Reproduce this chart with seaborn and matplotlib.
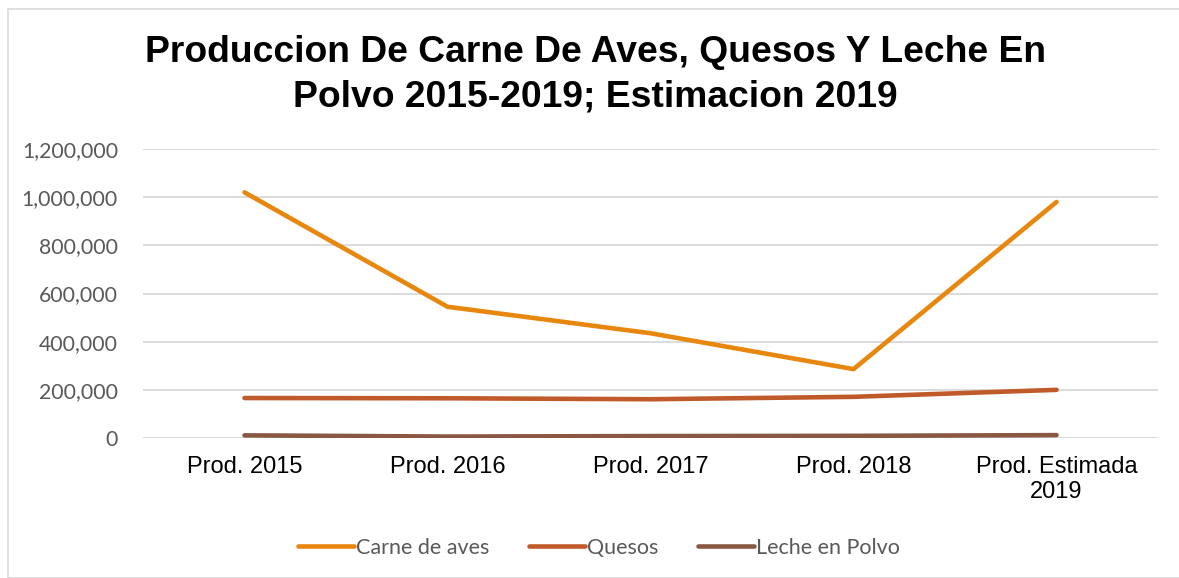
import pandas as pd
import numpy as np
import matplotlib
matplotlib.use('Agg')
import matplotlib.pyplot as plt
import seaborn as sns
from matplotlib.ticker import FuncFormatter
from matplotlib.patches import Rectangle

# datos
categorias = ['Prod. 2015', 'Prod. 2016', 'Prod. 2017', 'Prod. 2018', 'Prod. Estimada\n2019']
carne_aves = [1020000, 545000, 435000, 286000, 980000]
quesos = [166000, 165000, 161000, 171000, 200000]
leche_polvo = [11000, 6000, 8000, 9000, 12000]

series = ['Carne de aves', 'Quesos', 'Leche en Polvo']
colores = ['#E8870E', '#C05A2B', '#8A5842']

df = pd.DataFrame({
    'categoria': categorias * 3,
    'serie': np.repeat(series, len(categorias)),
    'valor': carne_aves + quesos + leche_polvo,
})
df['x'] = df['categoria'].map({c: i for i, c in enumerate(categorias)})

sns.set_theme(style='white')

fig = plt.figure(figsize=(11.79, 5.78), dpi=100)
ax = fig.add_axes([0.1213, 0.2422, 0.8609, 0.5])

sns.lineplot(data=df, x='x', y='valor', hue='serie', hue_order=series,
             palette=colores, linewidth=3.3, ax=ax, legend=False,
             solid_capstyle='round', sort=False)

ax.set_xlim(-0.5, 4.5)
ax.set_ylim(0, 1200000)
ax.set_yticks(np.arange(0, 1200001, 200000))
ax.yaxis.set_major_formatter(FuncFormatter(lambda v, p: f'{int(v):,}'))
ax.set_xticks(range(len(categorias)))
ax.set_xticklabels(categorias, fontfamily='Liberation Sans', fontsize=17,
                   color='black', linespacing=1.2)
for t in ax.get_yticklabels():
    t.set_fontfamily('Lato')
    t.set_fontsize(15.3)
    t.set_color('#595959')
ax.tick_params(axis='x', length=0, pad=13)
ax.tick_params(axis='y', length=0, pad=18)
ax.grid(axis='y', color='#D9D9D9', linewidth=1.3)
ax.set_axisbelow(True)
for s in ax.spines.values():
    s.set_visible(False)
ax.set_xlabel('')
ax.set_ylabel('')

fig.text(0.505, 0.871, 'Produccion De Carne De Aves, Quesos Y Leche En\nPolvo 2015-2019; Estimacion 2019',
         ha='center', va='center', fontfamily='Liberation Sans', fontweight='bold',
         fontsize=26.8, linespacing=1.33, color='black')

handles = [plt.Line2D([0], [0], color=c, linewidth=3.3, solid_capstyle='round') for c in colores]
leg = fig.legend(handles, series, loc='center', bbox_to_anchor=(0.508, 0.052), ncol=3,
                 frameon=False, handlelength=2.6, handletextpad=0.1, columnspacing=1.85,
                 prop={'family': 'Lato', 'size': 15.5})
for t in leg.get_texts():
    t.set_color('#595959')

fig.patches.append(Rectangle((8 / 1179, 0), 1.0, 1 - 9 / 578, transform=fig.transFigure,
                             fill=False, edgecolor='#D9D9D9', linewidth=1.2))

fig.savefig('out.png', dpi=100)
